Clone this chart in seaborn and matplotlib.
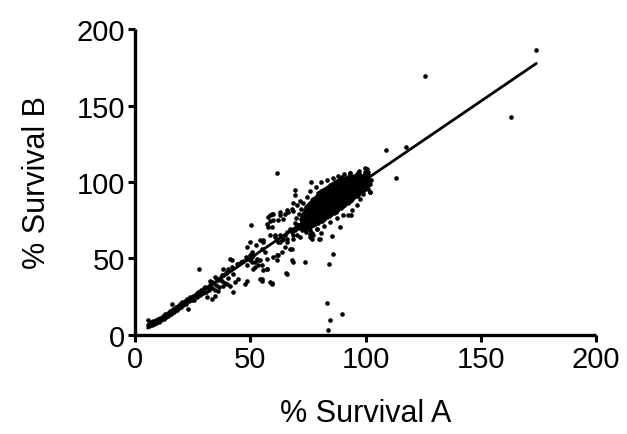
import numpy as np
import pandas as pd
import matplotlib
matplotlib.use("Agg")
import matplotlib.pyplot as plt
import seaborn as sns

# --- data (% survival A vs B) ---
# low end of the band, x 5-40
low_x = [5.5, 6.0, 6.2, 6.8, 7.0, 7.3, 7.8, 8.0, 8.3, 8.7, 9.0, 9.2, 9.6, 10.0, 10.2,
         10.7, 11.0, 11.3, 11.8, 12.1, 12.4, 12.9, 13.2, 13.5, 13.9, 14.2, 14.5, 15.0,
         15.3, 15.6, 16.1, 16.5, 16.8, 17.3, 17.8, 18.2, 18.6, 19.0, 19.5, 20.0, 5.8,
         20.5, 21.0, 21.6, 22.0, 22.5, 23.1, 23.5, 24.0, 24.6, 25.2, 25.8, 26.3, 27.0,
         27.7, 27.5, 28.2, 28.8, 29.5, 30.0, 30.6, 31.1, 31.5, 32.0, 32.6, 33.2, 33.5,
         34.0, 34.7, 35.2, 35.8, 36.5, 37.0, 37.6, 38.3, 39.0, 39.5, 40.2, 15.9]
low_y = [6.5, 5.8, 7.5, 6.9, 8.2, 6.4, 7.6, 9.0, 7.2, 8.4, 9.8, 7.9, 9.1, 10.4, 8.8,
         10.0, 11.3, 9.6, 11.0, 12.4, 10.5, 12.0, 13.6, 11.8, 12.9, 14.6, 12.4, 14.0,
         16.0, 13.5, 15.4, 17.2, 14.8, 16.3, 18.0, 16.5, 19.1, 17.4, 20.0, 18.6, 10.0,
         21.5, 19.8, 22.3, 20.5, 23.4, 17.0, 22.0, 24.8, 23.0, 25.5, 22.8, 26.8, 25.0,
         43.1, 28.2, 26.0, 29.3, 27.5, 30.6, 28.2, 24.7, 31.5, 29.6, 33.0, 23.6, 31.0,
         34.2, 29.1, 33.0, 36.0, 31.5, 37.3, 35.0, 39.0, 33.8, 40.2, 37.5, 20.3]

# middle of the band, x 40-80
mid_x = [50.2, 58.5, 57.7, 59.4, 62.9, 65.0, 66.3, 68.5, 54.2, 55.5, 49.9, 48.4,
         50.6, 51.3, 49.9, 52.0, 48.4, 41.9, 42.6, 38.3, 34.7, 32.5, 30.4, 43.4,
         39.8, 42.6, 36.1, 34.7, 48.4, 47.7, 54.2, 55.0, 58.5, 59.3, 57.1, 53.5,
         55.6, 61.4, 62.2, 63.6, 65.0, 65.8, 67.2, 68.0, 65.8, 63.6, 62.9, 65.0,
         68.0, 69.4, 70.1, 49.9, 48.1, 46.8, 44.7, 40.3, 68.4, 73.7, 80.7, 79.8,
         65.3, 54.9, 59.3, 57.1, 68.2, 60.0, 61.4, 51.3, 50.6, 52.8, 54.2,
         60.0, 62.9, 65.8, 67.9, 70.1, 58.5, 57.1, 57.8,
         52.7, 54.9, 56.4, 55.6, 58.5, 60.7, 62.1, 64.3, 65.8, 67.2, 68.6, 70.1,
         70.8, 72.3, 75.9, 77.3, 78.8, 76.6, 74.4, 50.6, 48.4, 46.2, 44.1, 41.2,
         41.9, 39.7, 37.6, 35.4, 33.2, 38.3, 41.2, 44.8, 53.5, 54.9, 57.1, 52.0,
         69.4, 69.4, 71.6, 68.7, 60.0, 62.2, 64.3, 59.3, 60.7, 62.9, 65.8, 68.7,
         71.6, 72.3, 75.9, 80.2]
mid_y = [72.1, 74.8, 77.4, 79.3, 78.2, 79.3, 80.6, 81.3, 61.8, 61.0, 61.0, 57.5,
         54.2, 52.0, 48.7, 47.7, 45.5, 49.2, 40.0, 43.3, 37.8, 35.6, 31.3, 34.6,
         33.4, 28.0, 29.0, 25.8, 35.6, 33.4, 36.7, 35.6, 34.6, 33.4, 43.3, 45.5,
         42.2, 48.7, 52.0, 54.2, 57.5, 60.8, 56.4, 48.7, 40.0, 61.8, 65.1, 65.1,
         67.3, 68.4, 71.7, 52.5, 51.1, 48.5, 46.6, 43.3, 47.6, 47.6, 66.9, 62.5,
         40.4, 36.7, 34.1, 43.3, 56.4, 50.9, 52.5, 43.3, 47.7, 49.8, 48.7,
         79.3, 80.4, 81.5, 82.2, 84.8, 78.3, 72.8, 70.6,
         58.6, 56.4, 54.2, 61.9, 65.1, 65.6, 60.8, 63.0, 67.3, 69.5, 63.0, 65.1,
         71.7, 73.9, 68.4, 65.1, 69.5, 63.0, 69.5, 50.9, 49.8, 47.7, 46.6, 49.8,
         44.4, 41.1, 38.9, 36.7, 34.5, 32.3, 32.3, 36.7, 48.7, 45.5, 49.8, 44.4,
         95.1, 91.8, 87.7, 86.6, 75.0, 75.0, 76.1, 70.6, 64.1, 60.8, 63.0, 65.1,
         64.1, 68.5, 64.1, 63.0]

# dense cluster around 70-102
cluster_x = [71.8, 72.3, 72.0, 72.5,
             73.2, 73.8, 73.4, 73.9, 73.3, 73.7,
             75.3, 74.8, 75.2, 74.7, 75.4, 74.9, 75.1,
             76.2, 76.8, 76.4, 76.9, 76.3, 76.7, 76.2, 76.6,
             78.3, 77.8, 78.2, 77.7, 78.4, 77.9, 78.1, 78.3,
             79.2, 79.8, 79.4, 79.9, 79.3, 79.7, 79.2, 79.6, 79.4,
             81.3, 80.8, 81.2, 80.7, 81.4, 80.9, 81.1, 81.3, 80.8,
             82.2, 82.8, 82.4, 82.9, 82.3, 82.7, 82.2, 82.6, 82.4,
             84.3, 83.8, 84.2, 83.7, 84.4, 83.9, 84.1, 84.3, 83.8,
             85.2, 85.8, 85.4, 85.9, 85.3, 85.7, 85.2, 85.6, 85.4,
             87.3, 86.8, 87.2, 86.7, 87.4, 86.9, 87.1, 87.3, 86.8,
             88.2, 88.8, 88.4, 88.9, 88.3, 88.7, 88.2, 88.6, 88.4,
             90.3, 89.8, 90.2, 89.7, 90.4, 89.9, 90.1, 90.3, 89.8,
             91.2, 91.8, 91.4, 91.9, 91.3, 91.7, 91.2, 91.6,
             93.3, 92.8, 93.2, 92.7, 93.4, 92.9, 93.1, 93.3,
             94.2, 94.8, 94.4, 94.9, 94.3, 94.7, 94.2,
             96.3, 95.8, 96.2, 95.7, 96.4, 95.9, 96.1,
             97.2, 97.8, 97.4, 97.9, 97.3, 97.7,
             99.3, 98.8, 99.2, 98.7, 99.4,
             100.2, 100.8, 100.4, 100.9,
             101.8, 102.2,
             77.0, 79.0, 82.0, 84.5, 87.5, 90.3, 92.5, 94.0, 96.5, 97.5, 99.0, 101.9,
             100.5, 99.0, 101.2, 99.7, 97.0, 93.2, 90.5, 88.0, 86.0, 83.5, 80.9, 78.5,
             76.0, 74.5, 73.0, 72.0, 71.0, 70.0, 69.5, 70.5, 74.4, 75.9,
             84.1, 86.0, 85.3, 88.9, 93.9, 101.9, 100.5, 99.7, 100.5, 93.2, 96.8,
             89.6, 94.7, 99.0, 101.0]
cluster_y = [70.5, 73.0, 75.8, 78.0,
             69.0, 72.2, 74.6, 77.1, 79.5, 81.8,
             70.4, 72.9, 75.3, 77.8, 80.1, 82.6, 84.8,
             71.0, 73.6, 76.2, 78.4, 80.9, 83.2, 85.8, 88.0,
             72.5, 75.0, 77.4, 79.9, 82.3, 84.7, 87.2, 89.6,
             73.2, 75.9, 78.3, 80.6, 83.0, 85.5, 87.9, 90.4, 92.6,
             74.6, 77.3, 79.7, 82.2, 84.5, 87.0, 89.3, 91.8, 93.9,
             76.0, 78.6, 81.2, 83.5, 86.1, 88.4, 90.9, 93.3, 95.6,
             77.5, 80.1, 82.6, 85.0, 87.4, 89.9, 92.3, 94.7, 97.0,
             79.2, 81.7, 84.1, 86.6, 89.0, 91.4, 93.8, 96.3, 98.5,
             80.6, 83.2, 85.7, 88.1, 90.5, 93.0, 95.4, 97.8, 100.1,
             82.4, 84.9, 87.3, 89.8, 92.2, 94.6, 97.1, 99.4, 101.6,
             84.0, 86.5, 88.9, 91.3, 93.8, 96.2, 98.6, 101.0, 103.1,
             85.6, 88.1, 90.5, 93.0, 95.4, 97.9, 100.3, 102.6,
             87.3, 89.8, 92.2, 94.7, 97.1, 99.5, 101.9, 104.1,
             89.0, 91.4, 93.8, 96.3, 98.7, 101.1, 103.4,
             90.8, 93.2, 95.6, 98.1, 100.5, 102.8, 105.0,
             92.7, 95.1, 97.6, 100.0, 102.3, 104.5,
             95.0, 97.4, 99.8, 102.1, 104.3,
             97.5, 100.0, 102.4, 104.6,
             99.0, 101.6,
             66.5, 69.0, 71.5, 74.0, 76.5, 78.3, 78.3, 82.0, 85.0, 89.2, 92.0, 93.6,
             96.0, 97.9, 106.7, 108.9, 107.5, 106.2, 105.0, 104.0, 102.3, 101.0, 100.1, 96.5,
             94.0, 90.0, 86.0, 82.5, 79.0, 76.5, 73.0, 70.0, 67.3, 66.0,
             46.6, 53.1, 64.7, 70.6, 78.7, 93.5, 99.0, 106.6, 108.8, 106.2, 105.6,
             102.3, 101.2, 103.4, 95.5]

# more points filling the core of the cluster
core_x = [72.9, 73.1, 72.8, 73.0,
          74.2, 74.4, 74.1, 74.5, 74.0, 74.3, 74.2,
          75.8, 75.6, 76.0, 75.7, 75.9, 75.6, 76.0,
          77.2, 77.4, 77.1, 77.5, 77.2, 77.4, 77.1, 77.3,
          78.7, 78.9, 78.6, 79.0, 78.7, 78.9, 78.6, 78.8,
          80.2, 80.4, 80.1, 80.5, 80.2, 80.4, 80.1, 80.3, 80.2,
          81.7, 81.9, 81.6, 82.0, 81.7, 81.9, 81.6, 81.8, 81.7,
          83.2, 83.4, 83.1, 83.5, 83.2, 83.4, 83.1, 83.3, 83.2,
          84.7, 84.9, 84.6, 85.0, 84.7, 84.9, 84.6, 84.8, 84.7,
          86.2, 86.4, 86.1, 86.5, 86.2, 86.4, 86.1, 86.3, 86.2,
          87.7, 87.9, 87.6, 88.0, 87.7, 87.9, 87.6, 87.8, 87.7,
          89.2, 89.4, 89.1, 89.5, 89.2, 89.4, 89.1, 89.3, 89.2,
          90.7, 90.9, 90.6, 91.0, 90.7, 90.9, 90.6, 90.8,
          92.2, 92.4, 92.1, 92.5, 92.2, 92.4, 92.1, 92.3,
          93.7, 93.9, 93.6, 94.0, 93.7, 93.9, 93.6,
          95.2, 95.4, 95.1, 95.5, 95.2, 95.4, 95.1,
          96.7, 96.9, 96.6, 97.0, 96.7, 96.9,
          98.2, 98.4, 98.1, 98.5, 98.2,
          99.7, 99.9, 99.6, 100.0,
          101.2, 101.4, 101.1]
core_y = [71.6, 74.0, 76.5, 79.0,
          69.8, 71.6, 73.9, 76.3, 78.7, 81.0, 83.4,
          71.3, 73.8, 76.5, 78.9, 81.4, 83.9, 86.2,
          72.0, 74.4, 76.9, 79.2, 81.6, 84.0, 86.4, 88.8,
          73.6, 76.1, 78.6, 81.0, 83.4, 85.9, 88.3, 90.9,
          74.3, 76.6, 79.0, 81.5, 83.9, 86.3, 88.6, 91.1, 93.4,
          75.8, 78.2, 80.6, 83.0, 85.5, 87.9, 90.2, 92.7, 95.0,
          77.0, 79.4, 81.9, 84.4, 86.8, 89.2, 91.6, 94.1, 96.4,
          78.5, 81.0, 83.4, 85.8, 88.3, 90.7, 93.1, 95.5, 97.8,
          80.0, 82.4, 84.9, 87.4, 89.8, 92.2, 94.6, 97.0, 99.3,
          81.6, 84.1, 86.5, 89.0, 91.4, 93.8, 96.2, 98.6, 100.9,
          83.2, 85.7, 88.1, 90.5, 93.0, 95.4, 97.8, 100.2, 102.3,
          84.8, 87.3, 89.7, 92.1, 94.6, 97.0, 99.4, 101.8,
          86.5, 89.0, 91.4, 93.8, 96.3, 98.7, 101.1, 103.3,
          88.2, 90.6, 93.0, 95.5, 97.9, 100.3, 102.7,
          89.9, 92.3, 94.7, 97.2, 99.6, 102.0, 104.2,
          91.8, 94.2, 96.6, 99.1, 101.4, 103.7,
          93.9, 96.3, 98.7, 101.1, 103.4,
          96.2, 98.7, 101.1, 103.4,
          98.2, 100.8, 103.0]

# isolated points
out_x = [174.1, 125.7, 162.9, 108.8, 117.6, 113.4, 61.6, 76.4, 83.1, 84.8, 89.9, 83.7]
out_y = [186.0, 169.4, 142.7, 120.9, 122.6, 102.7, 106.2, 100.3, 20.8, 9.6, 14.0, 3.1]

df = pd.DataFrame({
    "A": low_x + mid_x + cluster_x + core_x + out_x,
    "B": low_y + mid_y + cluster_y + core_y + out_y,
})

sns.set_style("ticks")
plt.rcParams["font.family"] = ["Liberation Sans", "DejaVu Sans"]
plt.rcParams["text.color"] = "black"
plt.rcParams["axes.labelcolor"] = "black"

fig = plt.figure(figsize=(6.27, 4.35), dpi=100)
ax = fig.add_axes([0.2153, 0.2276, 0.7353, 0.7034])

sns.regplot(data=df, x="A", y="B", ax=ax, ci=None, color="black",
            scatter_kws={"s": 11, "linewidths": 0, "alpha": 1},
            line_kws={"lw": 2.0, "color": "black"})

ax.set_xlim(0, 200)
ax.set_ylim(0, 200)
ax.set_xticks([0, 50, 100, 150, 200])
ax.set_yticks([0, 50, 100, 150, 200])
ax.set_xlabel("% Survival A", fontsize=22, labelpad=18)
ax.set_ylabel("% Survival B", fontsize=22, labelpad=18)
ax.tick_params(axis="both", labelsize=21, length=5, width=2.2, pad=2,
               color="black", labelcolor="black")
sns.despine(ax=ax)
for side in ["left", "bottom"]:
    ax.spines[side].set_linewidth(2.4)
    ax.spines[side].set_color("black")
    ax.spines[side].set_capstyle("butt")
ax.margins(0)

fig.savefig("out.png", dpi=100)
